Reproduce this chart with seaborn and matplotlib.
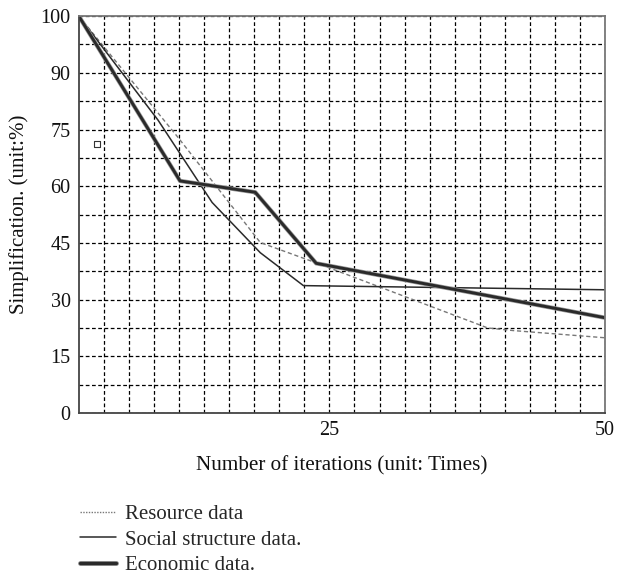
import numpy as np
import pandas as pd
import matplotlib
matplotlib.use("Agg")
import matplotlib.pyplot as plt
import matplotlib.patheffects as pe
from matplotlib.lines import Line2D
import seaborn as sns

# values (y in grid units, axis top = "100")
resource_x = [2.27, 11.27, 18.73, 23.72, 39.36, 41.7, 50.0]
resource_y = [105.0, 72.9, 45.1, 39.8, 22.5, 21.8, 19.9]

social_x = [2.27, 9.45, 14.36, 18.73, 22.64, 50.0]
social_y = [105.0, 77.5, 55.7, 42.4, 33.7, 32.6]

economic_x = [2.27, 11.45, 18.27, 23.8, 50.0]
economic_y = [105.0, 61.4, 58.4, 39.6, 25.2]

stray_x = [3.9]
stray_y = [71.1]

series_labels = ["Resource data", "Social structure data.", "Economic data."]
x_ticks = [25, 50]
y_ticks = [0, 15, 30, 45, 60, 75, 90, 105]
y_tick_labels = ["0", "15", "30", "45", "60", "75", "90", "100"]

sns.set_theme(style="white")
plt.rcParams["font.family"] = ["Liberation Serif", "DejaVu Serif"]

fig = plt.figure(figsize=(6.26, 5.76), dpi=100)
ax = fig.add_axes([0.126, 0.283, 0.8405, 0.689])

x_step = 25 / 11
x_left = 25 - 10 * x_step

# grid
ax.set_xlim(x_left, 50)
ax.set_ylim(0, 105)
ax.set_xticks(x_ticks)
ax.set_xticks(x_left + np.arange(1, 22) * x_step, minor=True)
ax.set_yticks(y_ticks)
ax.set_yticklabels(y_tick_labels)
ax.set_yticks(np.arange(7.5, 105, 7.5), minor=True)
ax.grid(which="both", color="black", linestyle=(0, (3, 2)), linewidth=0.9)
ax.set_axisbelow(True)
ax.tick_params(which="both", length=0, labelsize=14.5, colors="#111111", pad=6)

sns.lineplot(x=resource_x, y=resource_y, ax=ax, color="#777777", linewidth=1.0,
             linestyle=(0, (3, 2)), sort=False)
sns.lineplot(x=social_x, y=social_y, ax=ax, color="#2a2a2a", linewidth=1.1, sort=False)
econ = sns.lineplot(x=economic_x, y=economic_y, ax=ax, color="#2a2a2a", linewidth=2.1, sort=False)
econ.lines[-1].set_path_effects([pe.Stroke(linewidth=3.1, foreground="#9a9a9a"), pe.Normal()])
ax.scatter(stray_x, stray_y, marker="s", s=22, facecolor="white", edgecolor="#333333", linewidth=0.8, zorder=5)

for side in ["left", "bottom"]:
    ax.spines[side].set_color("#444444")
    ax.spines[side].set_linewidth(1.3)
for side in ["top", "right"]:
    ax.spines[side].set_color("#777777")
    ax.spines[side].set_linewidth(1.3)

ax.set_xlabel("Number of iterations (unit: Times)", fontsize=15.2, labelpad=11, color="#111111")
ax.set_ylabel("Simplification. (unit:%)", fontsize=15, labelpad=8, color="#111111")

handles = [
    Line2D([], [], color="#777777", linewidth=1.0, linestyle=(0, (1, 1))),
    Line2D([], [], color="#2a2a2a", linewidth=1.1),
    Line2D([], [], color="#2a2a2a", linewidth=2.4,
           path_effects=[pe.Stroke(linewidth=3.6, foreground="#9a9a9a"), pe.Normal()]),
]
fig.legend(handles, series_labels, loc="upper left", bbox_to_anchor=(0.128, 0.124),
           frameon=False, fontsize=15, handlelength=1.7, handletextpad=0.45,
           labelspacing=0.28, borderpad=0, borderaxespad=0)

fig.savefig("out.png", dpi=100)
